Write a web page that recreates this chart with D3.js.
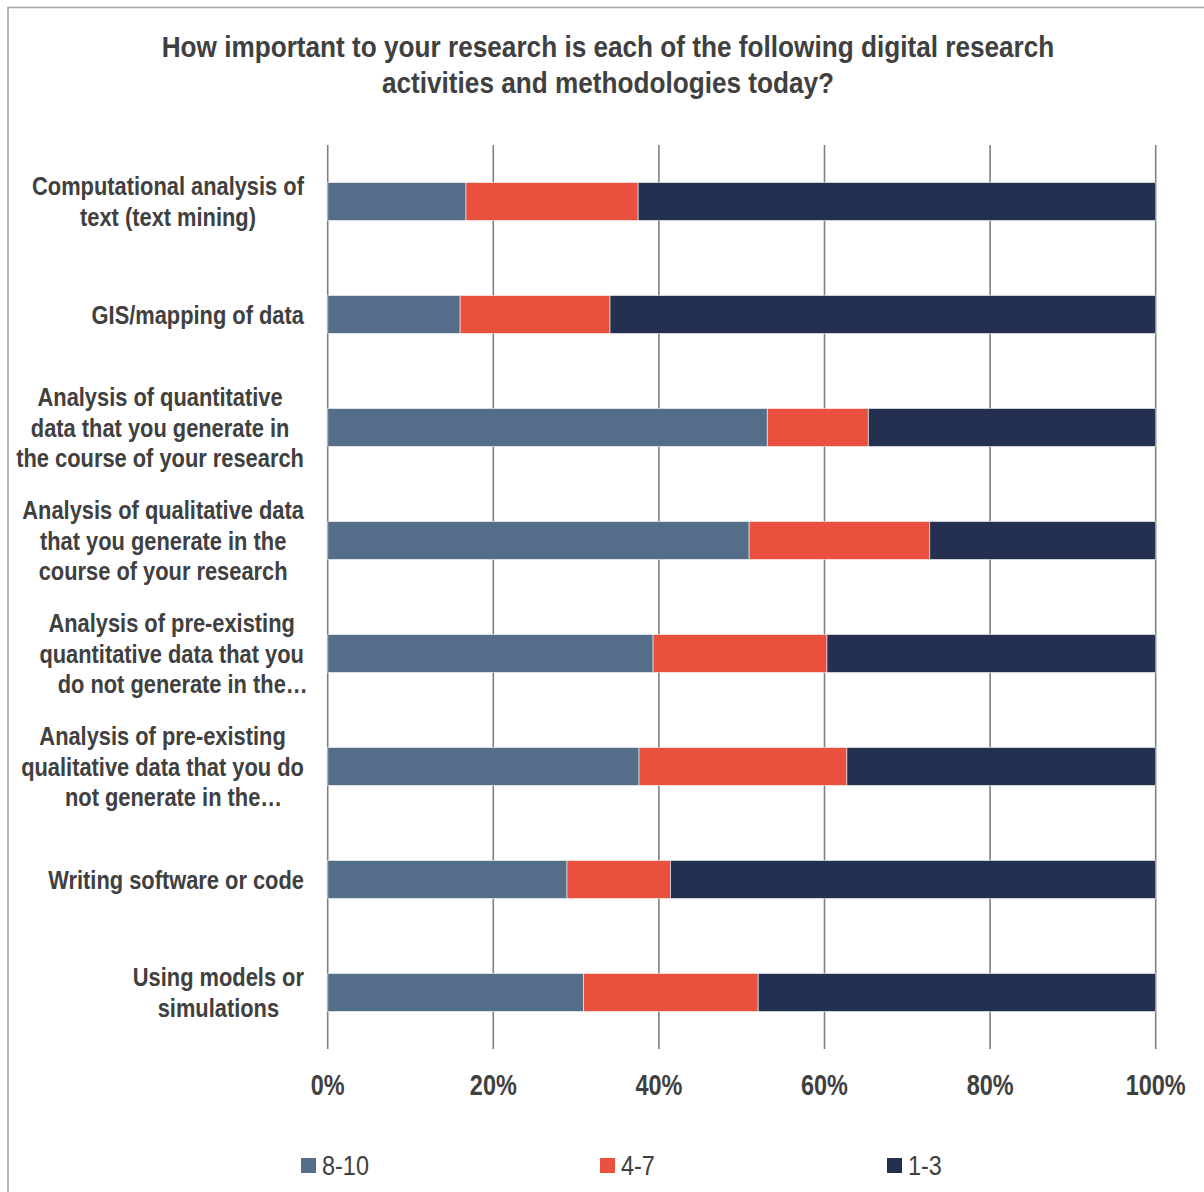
<!DOCTYPE html>
<html>
<head>
<meta charset="utf-8">
<script src="https://cdn.jsdelivr.net/npm/d3@7"></script>
<style>
  html, body { margin: 0; padding: 0; background: #fff; }
  svg { display: block; }
</style>
</head>
<body>
<svg id="chart" width="1204" height="1192"></svg>
<script>
const titleLines = [
  "How important to your research is each of the following digital research",
  "activities and methodologies today?"
];
const categories = [
  ["Computational analysis of", "text (text mining)"],
  ["GIS/mapping of data"],
  ["Analysis of quantitative", "data that you generate in", "the course of your research"],
  ["Analysis of qualitative data", "that you generate in the", "course of your research"],
  ["Analysis of pre-existing", "quantitative data that you", "do not generate in the\u2026"],
  ["Analysis of pre-existing", "qualitative data that you do", "not generate in the\u2026"],
  ["Writing software or code"],
  ["Using models or", "simulations"]
];
const seriesNames = ["8-10", "4-7", "1-3"];
const high = [16.7, 16.0, 53.1, 50.9, 39.3, 37.6, 28.9, 30.9];
const mid  = [20.8, 18.1, 12.2, 21.8, 21.0, 25.1, 12.5, 21.1];
const low  = [62.5, 65.9, 34.7, 27.3, 39.7, 37.3, 58.6, 48.0];
const tickValues = [0, 20, 40, 60, 80, 100];
const colors = ["#546e89", "#e9503e", "#23304f"];

const FONT = "'Liberation Sans Narrow', 'Arial Narrow', 'Liberation Sans', Arial, sans-serif";
const TEXT = "#404040";

const svg = d3.select("#chart");

// measure helper for horizontal condensation (emulating a narrow face)
function measure(str, size, weight) {
  const t = svg.append("text").style("font-family", FONT)
    .style("font-size", size + "px").style("font-weight", weight).text(str);
  const w = t.node().getComputedTextLength();
  t.remove();
  return w;
}
const kTitle = 893 / measure(titleLines[0], 30, "bold");
const kCat = 272 / measure(categories[0][0], 26, "bold");
const kTick = 60 / measure("100%", 29, "bold");
const kLeg = 47 / measure(seriesNames[0], 27, "normal");

function place(sel, x, y, k) {
  sel.attr("transform", `translate(${x},${y}) scale(${k},1)`);
}

// frame
svg.append("path")
  .attr("d", "M8,1192 L8,7.5 L1204,7.5")
  .attr("fill", "none").attr("stroke", "#a6a6a6").attr("stroke-width", 1.6);

// title
svg.append("g").selectAll("text").data(titleLines).join("text")
  .attr("text-anchor", "middle")
  .style("font-family", FONT).style("font-weight", "bold").style("font-size", "30px")
  .attr("fill", TEXT)
  .each(function (d, i) { place(d3.select(this), 608, 57 + i * 36, kTitle); })
  .text(d => d);

const x = d3.scaleLinear().domain([0, 100]).range([327.7, 1155.7]);
const keys = categories.map((c, i) => i);
const y = d3.scaleBand().domain(keys).range([145, 1049]).paddingInner(0.664).paddingOuter(0.332);

// gridlines
svg.append("g").selectAll("line").data(tickValues).join("line")
  .attr("x1", d => x(d)).attr("x2", d => x(d))
  .attr("y1", 145).attr("y2", 1049)
  .attr("stroke", "#808080").attr("stroke-width", 1.6);

// stacked data
const rows = keys.map(i => ({ i, "8-10": high[i], "4-7": mid[i], "1-3": low[i] }));
const stacked = d3.stack().keys(seriesNames)(rows);

svg.append("g").selectAll("g").data(stacked).join("g")
  .attr("fill", (d, i) => colors[i])
  .selectAll("rect").data(d => d).join("rect")
  .attr("x", d => x(d[0]))
  .attr("width", d => x(d[1]) - x(d[0]))
  .attr("y", d => y(d.data.i))
  .attr("height", y.bandwidth())
  .attr("stroke", "rgba(255,255,255,0.55)")
  .attr("stroke-width", 1);

// x axis tick labels
svg.append("g").selectAll("text").data(tickValues).join("text")
  .attr("text-anchor", "middle")
  .style("font-family", FONT).style("font-weight", "bold").style("font-size", "29px")
  .attr("fill", TEXT)
  .each(function (d) { place(d3.select(this), x(d), 1095, kTick); })
  .text(d => d + "%");

// category labels: block right-aligned at 304, lines centered within block
const labelG = svg.append("g");
const lineH = 30.5;
categories.forEach((lines, i) => {
  const g = labelG.append("g");
  const texts = lines.map(ln => g.append("text")
    .style("font-family", FONT).style("font-weight", "bold").style("font-size", "26px")
    .attr("fill", TEXT)
    .attr("text-anchor", "middle")
    .text(ln));
  const widths = texts.map(t => t.node().getComputedTextLength() * kCat);
  const maxW = d3.max(widths);
  const cx = 304 - maxW / 2;
  const cy = y(i) + y.bandwidth() / 2;
  const n = lines.length;
  texts.forEach((t, j) => {
    const shift = lines[j].endsWith("\u2026") ? 11 : 0;
    place(t, cx + shift, cy + (j - (n - 1) / 2) * lineH + 9, kCat);
  });
});

// legend
const legendX = [301, 600, 887];
const leg = svg.append("g").selectAll("g").data(seriesNames).join("g")
  .attr("transform", (d, i) => `translate(${legendX[i]},1158)`);
leg.append("rect").attr("width", 15).attr("height", 15).attr("fill", (d, i) => colors[i]);
leg.append("text")
  .style("font-family", FONT).style("font-size", "27px")
  .attr("fill", TEXT)
  .each(function () { place(d3.select(this), 21, 17, kLeg); })
  .text(d => d);
</script>
</body>
</html>
